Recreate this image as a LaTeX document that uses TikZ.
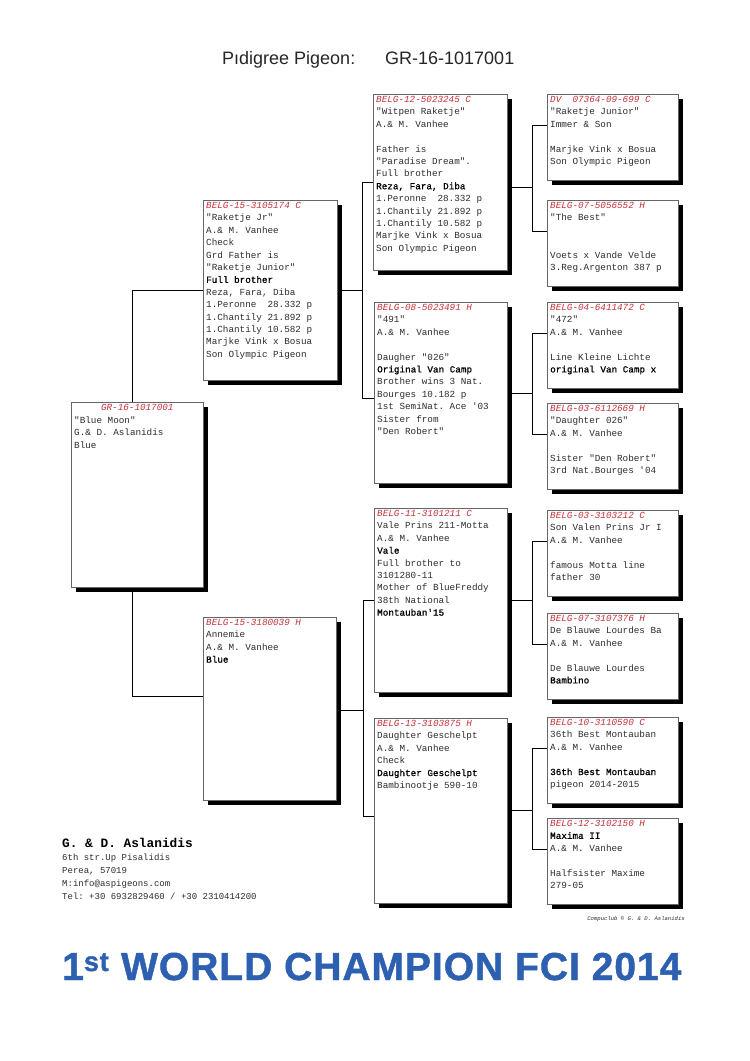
\documentclass[tikz,border=0pt]{standalone}
\usepackage{fontspec}
\setmonofont{Liberation Mono}
\newfontfamily\pmonob[FakeBold=0.8]{Liberation Mono}
\newfontfamily\psans{Liberation Sans}
\newfontfamily\pbigsans[LetterSpace=2.5,FakeBold=1.2]{Liberation Sans}
\usetikzlibrary{calc,shadows}
\definecolor{hdr}{RGB}{196,50,60}
\definecolor{bodytxt}{RGB}{45,45,45}
\definecolor{champ}{RGB}{45,96,176}
\newcommand{\phd}[1]{{\color{hdr}\itshape #1}}
\newcommand{\pbf}[1]{{\pmonob\color{black}#1}}
\tikzset{
  pbox/.style={draw=black!60, line width=0.6pt, fill=white,
    drop shadow={shadow xshift=5pt, shadow yshift=-5pt, opacity=1, fill=black},
    anchor=north west, inner sep=0pt},
  g4box/.style={pbox, minimum width=131pt, minimum height=86pt},
  ptxt/.style={anchor=north west, inner sep=0pt, align=left,
    font=\ttfamily\fontsize{9.3}{12.4}\selectfont, text=bodytxt},
  conn/.style={draw=black, line width=0.6pt},
}
\begin{document}
\begin{tikzpicture}[x=1pt,y=-1pt]
\fill[white] (0,0) rectangle (750,1061);
\useasboundingbox (0,0) rectangle (750,1061);

% title
\node[anchor=base west, inner sep=0pt, font=\psans\fontsize{18}{18}\selectfont, text=black!85] (t1) at (222,64) {Pıdigree Pigeon:};
\node[anchor=base west, inner sep=0pt, font=\psans\fontsize{18}{18}\selectfont, text=black!85] (t2) at (385,64) {GR-16-1017001};

% generation 1
\node[pbox, minimum width=132pt, minimum height=185pt] (b1) at (71,402) {};
\node[ptxt, anchor=north] (b1h) at ($(b1.north)+(0,2)$) {\phd{GR-16-1017001}};
\node[ptxt] (b1t) at ($(b1.north west)+(3,14.4)$) {"Blue Moon"\\G.\& D. Aslanidis\\Blue};

% generation 2
\node[pbox, minimum width=134pt, minimum height=180pt] (b2) at (203,200) {};
\node[ptxt] (b2t) at ($(b2.north west)+(3,2)$) {\phd{BELG-15-3105174 C}\\"Raketje Jr"\\A.\& M. Vanhee\\Check\\Grd Father is\\"Raketje Junior"\\\pbf{Full brother}\\Reza, Fara, Diba\\1.Peronne\ \ 28.332 p\\1.Chantily 21.892 p\\1.Chantily 10.582 p\\Marjke Vink x Bosua\\Son Olympic Pigeon};

\node[pbox, minimum width=133pt, minimum height=183pt] (b3) at (203,617) {};
\node[ptxt] (b3t) at ($(b3.north west)+(3,2)$) {\phd{BELG-15-3180039 H}\\Annemie\\A.\& M. Vanhee\\\pbf{Blue}};

% generation 3
\node[pbox, minimum width=134pt, minimum height=176pt] (c1) at (373,94) {};
\node[ptxt] (c1t) at ($(c1.north west)+(3,2)$) {\phd{BELG-12-5023245 C}\\"Witpen Raketje"\\A.\& M. Vanhee\\\mbox{}\\Father is\\"Paradise Dream".\\Full brother\\\pbf{Reza, Fara, Diba}\\1.Peronne\ \ 28.332 p\\1.Chantily 21.892 p\\1.Chantily 10.582 p\\Marjke Vink x Bosua\\Son Olympic Pigeon};

\node[pbox, minimum width=133pt, minimum height=181pt] (c2) at (374,302) {};
\node[ptxt] (c2t) at ($(c2.north west)+(3,2)$) {\phd{BELG-08-5023491 H}\\"491"\\A.\& M. Vanhee\\\mbox{}\\Daugher "026"\\\pbf{Original Van Camp}\\Brother wins 3 Nat.\\Bourges 10.182 p\\1st SemiNat. Ace '03\\Sister from\\"Den Robert"};

\node[pbox, minimum width=133pt, minimum height=184pt] (c3) at (374,508) {};
\node[ptxt] (c3t) at ($(c3.north west)+(3,2)$) {\phd{BELG-11-3101211 C}\\Vale Prins 211-Motta\\A.\& M. Vanhee\\\pbf{Vale}\\Full brother to\\3101280-11\\Mother of BlueFreddy\\38th National\\\pbf{Montauban'15}};

\node[pbox, minimum width=133pt, minimum height=185pt] (c4) at (374,718) {};
\node[ptxt] (c4t) at ($(c4.north west)+(3,2)$) {\phd{BELG-13-3103875 H}\\Daughter Geschelpt\\A.\& M. Vanhee\\Check\\\pbf{Daughter Geschelpt}\\Bambinootje 590-10};

% generation 4
\node[g4box] (d1) at (547,94) {};
\node[ptxt] (d1t) at ($(d1.north west)+(3,2)$) {\phd{DV\ \ 07364-09-699 C}\\"Raketje Junior"\\Immer \& Son\\\mbox{}\\Marjke Vink x Bosua\\Son Olympic Pigeon};
\node[g4box] (d2) at (547,200) {};
\node[ptxt] (d2t) at ($(d2.north west)+(3,2)$) {\phd{BELG-07-5056552 H}\\"The Best"\\\mbox{}\\\mbox{}\\Voets x Vande Velde\\3.Reg.Argenton 387 p};
\node[g4box] (d3) at (547,302) {};
\node[ptxt] (d3t) at ($(d3.north west)+(3,2)$) {\phd{BELG-04-6411472 C}\\"472"\\A.\& M. Vanhee\\\mbox{}\\Line Kleine Lichte\\\pbf{original Van Camp x}};
\node[g4box] (d4) at (547,403) {};
\node[ptxt] (d4t) at ($(d4.north west)+(3,2)$) {\phd{BELG-03-6112669 H}\\"Daughter 026"\\A.\& M. Vanhee\\\mbox{}\\Sister "Den Robert"\\3rd Nat.Bourges '04};
\node[g4box] (d5) at (547,510) {};
\node[ptxt] (d5t) at ($(d5.north west)+(3,2)$) {\phd{BELG-03-3103212 C}\\Son Valen Prins Jr I\\A.\& M. Vanhee\\\mbox{}\\famous Motta line\\father 30};
\node[g4box] (d6) at (547,613) {};
\node[ptxt] (d6t) at ($(d6.north west)+(3,2)$) {\phd{BELG-07-3107376 H}\\De Blauwe Lourdes Ba\\A.\& M. Vanhee\\\mbox{}\\De Blauwe Lourdes\\\pbf{Bambino}};
\node[g4box] (d7) at (547,717) {};
\node[ptxt] (d7t) at ($(d7.north west)+(3,2)$) {\phd{BELG-10-3110590 C}\\36th Best Montauban\\A.\& M. Vanhee\\\mbox{}\\\pbf{36th Best Montauban}\\pigeon 2014-2015};
\node[g4box] (d8) at (547,818) {};
\node[ptxt] (d8t) at ($(d8.north west)+(3,2)$) {\phd{BELG-12-3102150 H}\\\pbf{Maxima II}\\A.\& M. Vanhee\\\mbox{}\\Halfsister Maxime\\279-05};

% connectors gen1-gen2
\coordinate (j1a) at ($(b1.north west)+(61,0)$);
\coordinate (j1b) at ($(b1.south west)+(61,0)$);
\coordinate (b3l) at ($(b3.north west)+(0,79)$);
\draw[conn] (b2.west) -| (j1a);
\draw[conn] (b3l) -| (j1b);

% connectors gen2-gen3
\coordinate (c1l) at ($(c1.north west)+(0,88)$);
\coordinate (c2l) at ($(c2.north west)+(0,96)$);
\coordinate (c3l) at ($(c3.north west)+(0,92)$);
\coordinate (c4l) at ($(c4.north west)+(0,98)$);
\coordinate (j2a) at ($(c1l)+(-11,0)$);
\coordinate (j2b) at ($(c3l)+(-11,0)$);
\coordinate (b3r) at ($(b3.north east)+(0,93)$);
\draw[conn] (c1l) -- (j2a) |- (c2l);
\draw[conn] (c3l) -- (j2b) |- (c4l);
\draw[conn] (b2.east) -- (b2.east -| j2a);
\draw[conn] (b3r) -- (b3r -| j2b);

% connectors gen3-gen4
\foreach \n in {1,...,8}{\coordinate (d\n l) at ($(d\n.north west)+(0,31)$);}
\coordinate (c1r) at ($(c1.north east)+(0,93)$);
\coordinate (c2r) at ($(c2.north east)+(0,91)$);
\coordinate (c3r) at ($(c3.north east)+(0,92)$);
\coordinate (c4r) at ($(c4.north east)+(0,92)$);
\draw[conn] (d1l) -- ++(-15,0) coordinate (j3a) |- (d2l);
\draw[conn] (d3l) -- ++(-15,0) coordinate (j3b) |- (d4l);
\draw[conn] (d5l) -- ++(-15,0) coordinate (j3c) |- (d6l);
\draw[conn] (d7l) -- ++(-15,0) coordinate (j3d) |- (d8l);
\draw[conn] (c1r) -- (c1r -| j3a);
\draw[conn] (c2r) -- (c2r -| j3b);
\draw[conn] (c3r) -- (c3r -| j3c);
\draw[conn] (c4r) -- (c4r -| j3d);

% footer
\node[anchor=base west, inner sep=0pt, font=\ttfamily\bfseries\fontsize{12.8}{13}\selectfont] (f1) at (62,847) {G. \& D. Aslanidis};
\node[anchor=north west, inner sep=0pt, align=left, text=bodytxt, font=\ttfamily\fontsize{9}{13}\selectfont] (f2) at (62,853.5) {6th str.Up Pisalidis\\Perea, 57019\\M:info@aspigeons.com\\Tel: +30 6932829460 / +30 2310414200};
\node[anchor=base east, inner sep=0pt, text=bodytxt, font=\ttfamily\itshape\fontsize{5.6}{6}\selectfont] (f3) at (685,920) {Compuclub © G. \& D. Aslanidis};

\node[anchor=base west, inner sep=0pt, text=champ, font=\pbigsans\bfseries\fontsize{39}{39}\selectfont] (champ) at (62,980) {1\textsuperscript{st} WORLD CHAMPION FCI 2014};
\end{tikzpicture}
\end{document}
